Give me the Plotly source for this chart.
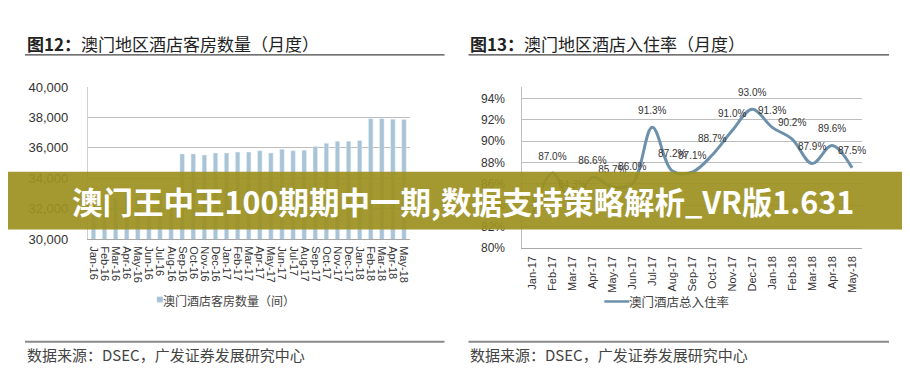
import plotly.graph_objects as go

W, H = 910, 388


def fx(x):
    return x / W


def fy(y):
    return 1 - y / H


# ---------------- data ----------------
months_left = ["Jan-16", "Feb-16", "Mar-16", "Apr-16", "May-16", "Jun-16", "Jul-16", "Aug-16",
               "Sep-16", "Oct-16", "Nov-16", "Dec-16", "Jan-17", "Feb-17", "Mar-17", "Apr-17",
               "May-17", "Jun-17", "Jul-17", "Aug-17", "Sep-17", "Oct-17", "Nov-17", "Dec-17",
               "Jan-18", "Feb-18", "Mar-18", "Apr-18", "May-18"]
hotel_rooms = [32700, 32750, 32700, 32800, 32800, 32850, 32850, 32900,
               35600, 35600, 35530, 35660, 35660, 35720, 35720, 35810,
               35660, 35910, 35810, 35850, 36090, 36300, 36430, 36430,
               36490, 37920, 37920, 37880, 37870]

months_right = ["Jan-17", "Feb-17", "Mar-17", "Apr-17", "May-17", "Jun-17", "Jul-17", "Aug-17",
                "Sep-17", "Oct-17", "Nov-17", "Dec-17", "Jan-18", "Feb-18", "Mar-18", "Apr-18",
                "May-18"]
occupancy = [83.0, 87.0, 84.3, 86.6, 85.7, 86.0, 91.3, 87.2, 87.1, 88.7, 91.0, 93.0,
             91.3, 90.2, 87.9, 89.6, 87.5]
occupancy_labels = [f"{v:.1f}%" for v in occupancy]

left_ticks = [30000, 32000, 34000, 36000, 38000, 40000]
left_tick_text = ["30,000", "32,000", "34,000", "36,000", "38,000", "40,000"]
right_ticks = [80, 82, 84, 86, 88, 90, 92, 94]
right_tick_text = ["80%", "82%", "84%", "86%", "88%", "90%", "92%", "94%"]

title_left = "<b>图12：</b>澳门地区酒店客房数量（月度）"
title_right = "<b>图13：</b>澳门地区酒店入住率（月度）"
legend_left = "澳门酒店客房数量（间）"
legend_right = "澳门酒店总入住率"
source_text = "数据来源：DSEC，广发证券发展研究中心"
banner_text = "澳门王中王100期期中一期,数据支持策略解析_VR版1.631"

BAR_COLOR = "#a9c3d7"
LINE_COLOR = "#6d91ac"
GRID = "#bdbdbd"
TXT = "#333333"
CJK = "Noto Sans CJK SC"
LAT = "Liberation Sans"

fig = go.Figure()

fig.add_trace(go.Bar(
    x=months_left, y=hotel_rooms, marker_color=BAR_COLOR, xaxis="x", yaxis="y",
    showlegend=False, hoverinfo="skip"))

fig.add_trace(go.Scatter(
    x=months_right, y=occupancy, mode="lines+markers+text", xaxis="x2", yaxis="y2",
    line=dict(color=LINE_COLOR, width=3, shape="spline", smoothing=1.0),
    marker=dict(size=16, color="rgba(0,0,0,0)"),
    text=occupancy_labels, textposition="top center",
    textfont=dict(family=LAT, size=10, color=TXT),
    showlegend=False, hoverinfo="skip", cliponaxis=False))

fig.update_layout(
    width=W, height=H, margin=dict(l=0, r=0, t=0, b=0),
    paper_bgcolor="white", plot_bgcolor="white", bargap=0.6,
    xaxis=dict(domain=[fx(80), fx(402)], anchor="y", tickangle=90,
               tickmode="array", tickvals=months_left, ticktext=months_left,
               tickfont=dict(family=LAT, size=11, color=TXT),
               showline=True, linecolor="#a8a8a8", linewidth=1, ticks="",
               showgrid=False, range=[-0.5, len(months_left) - 0.5],
               ticklabelstandoff=4),
    yaxis=dict(domain=[fy(233), fy(75)], anchor="x", range=[30000, 40000],
               tickmode="array", tickvals=left_ticks, ticktext=left_tick_text,
               tickfont=dict(family=LAT, size=13, color=TXT),
               showgrid=True, gridcolor=GRID, gridwidth=1,
               showline=True, linecolor="#cfcfcf", zeroline=False, ticks="",
               ticklabelstandoff=16),
    xaxis2=dict(domain=[fx(515), fx(855)], anchor="y2", tickangle=-90,
                tickmode="array", tickvals=months_right, ticktext=months_right,
                tickfont=dict(family=LAT, size=11, color=TXT),
                showline=True, linecolor="#a8a8a8", linewidth=1, ticks="",
                showgrid=False, range=[-0.5, len(months_right) - 0.5],
                ticklabelstandoff=3),
    yaxis2=dict(domain=[fy(242), fy(75)], anchor="x2", range=[80, 95.08],
                tickmode="array", tickvals=right_ticks, ticktext=right_tick_text,
                tickfont=dict(family=LAT, size=12, color=TXT),
                showgrid=True, gridcolor=GRID, gridwidth=1,
                showline=True, linecolor="#bdbdbd", zeroline=False, ticks="",
                ticklabelstandoff=14),
)

shapes = []
annotations = []

# titles and rules
for x0, x1, tx, ttl in [(17, 437, 17, title_left), (461, 882, 461, title_right)]:
    annotations.append(dict(xref="paper", yref="paper", x=fx(tx), y=fy(30), xanchor="left",
                            yanchor="middle", text=ttl, showarrow=False,
                            font=dict(family=CJK, size=17, color="#222222")))
    shapes.append(dict(type="line", xref="paper", yref="paper", x0=fx(x0), x1=fx(x1),
                       y0=fy(41.5), y1=fy(41.5), line=dict(color="#444444", width=1.2)))
    shapes.append(dict(type="line", xref="paper", yref="paper", x0=fx(x0), x1=fx(x1),
                       y0=fy(340), y1=fy(340), line=dict(color="#8a8a8a", width=2)))
    annotations.append(dict(xref="paper", yref="paper", x=fx(tx), y=fy(353), xanchor="left",
                            yanchor="middle", text=source_text, showarrow=False,
                            font=dict(family=CJK, size=15, color="#444444")))

# legends
shapes.append(dict(type="rect", xref="paper", yref="paper", x0=fx(149), x1=fx(155),
                   y0=fy(299), y1=fy(293), fillcolor=BAR_COLOR, line=dict(width=0)))
annotations.append(dict(xref="paper", yref="paper", x=fx(153), y=fy(297), xanchor="left",
                        yanchor="middle", text=legend_left, showarrow=False,
                        font=dict(family=CJK, size=12, color="#444444")))
shapes.append(dict(type="line", xref="paper", yref="paper", x0=fx(597), x1=fx(622),
                   y0=fy(298), y1=fy(298), line=dict(color=LINE_COLOR, width=2.5)))
annotations.append(dict(xref="paper", yref="paper", x=fx(620), y=fy(298), xanchor="left",
                        yanchor="middle", text=legend_right, showarrow=False,
                        font=dict(family=CJK, size=12.5, color="#444444")))

# banner overlay
shapes.append(dict(type="rect", xref="paper", yref="paper", x0=0, x1=1, y0=fy(223), y1=fy(163),
                   fillcolor="rgba(156,144,32,0.92)", line=dict(width=0), layer="above"))
annotations.append(dict(xref="paper", yref="paper", x=0.5, y=fy(193), xanchor="center",
                        yanchor="middle", text="<b>" + banner_text + "</b>", showarrow=False,
                        font=dict(family=CJK, size=30.5, color="white")))

fig.update_layout(shapes=shapes, annotations=annotations)
fig.write_html("out.html")
